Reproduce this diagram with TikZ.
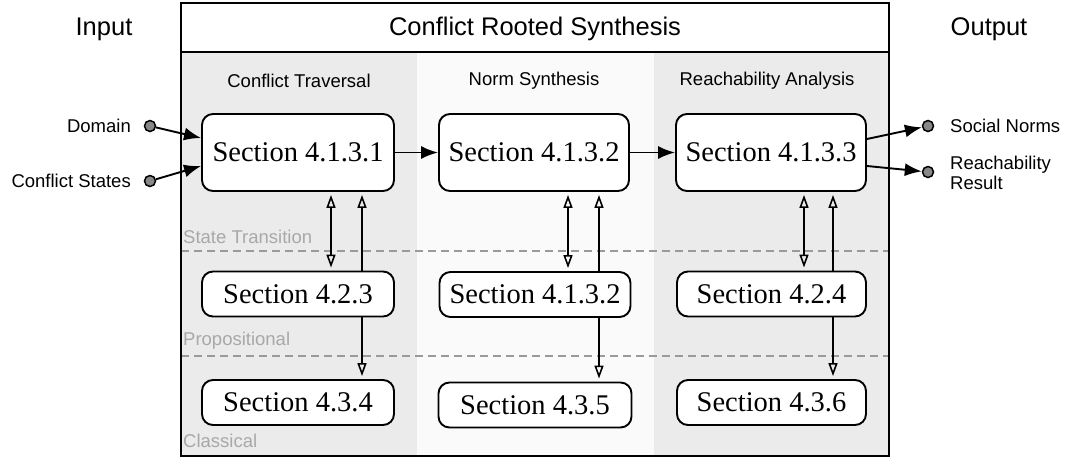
\documentclass[tikz,border=0pt]{standalone}
\usepackage{fontspec}
\setmainfont{Liberation Serif}
\newfontfamily\hv{Liberation Sans}
\usetikzlibrary{arrows.meta,calc}
\definecolor{colgray}{HTML}{EBEBEB}
\definecolor{colwhite}{HTML}{FAFAFA}
\definecolor{dotgray}{HTML}{888888}
\definecolor{lblgray}{HTML}{A8A8A8}
\definecolor{dashgray}{HTML}{9A9A9A}
\tikzset{
  sec/.style={draw=black, line width=1.9pt, fill=white, rounded corners=11pt,
    inner sep=0pt, font=\fontsize{28.5}{32}\selectfont},
  bigsec/.style={sec, minimum height=77pt},
  smallsec/.style={sec, minimum height=45pt},
  dot/.style={circle, draw=black, line width=1.5pt, fill=dotgray, minimum size=11pt, inner sep=0pt},
  flow/.style={line width=1.9pt, -{Latex[length=17pt,width=13pt]}},
  opentip/.tip={Triangle[open,length=13pt,width=9pt,line width=1.6pt]},
  link/.style={line width=1.8pt, -opentip},
  biLink/.style={line width=1.8pt, opentip-opentip, shorten <=3pt},
  hdr/.style={font=\hv\fontsize{25.5}{30}\selectfont},
  colhdr/.style={font=\hv\fontsize{18.5}{22}\selectfont},
  small/.style={font=\hv\fontsize{18.5}{21}\selectfont, inner sep=0pt},
  level/.style={font=\hv\fontsize{18.5}{21}\selectfont, text=lblgray, inner sep=0pt, anchor=west},
  levelline/.style={draw=dashgray, line width=1.6pt, dash pattern=on 8pt off 5pt}
}
\begin{document}
\begin{tikzpicture}[x=1pt,y=-1pt]
\useasboundingbox (0,0) rectangle (1070,459);

% column backgrounds
\fill[colgray]  (181,52) rectangle (417,456);
\fill[colwhite] (417,52) rectangle (654,456);
\fill[colgray]  (654,52) rectangle (889,456);

% level separators
\draw[levelline] (181,251) -- (889,251);
\draw[levelline] (181,356) -- (889,356);
\node[level] (lv1) at (183,237) {State Transition};
\node[level] (lv2) at (183,341) {Propositional};
\node[level] (lv3) at (183,441) {Classical};

% frame and title band
\draw[line width=1.9pt] (181,3) rectangle (889,456);
\draw[line width=1.9pt] (181,52) -- (889,52);
\node[hdr] (title) at (535,29) {Conflict Rooted Synthesis};
\node[hdr] (inp) at (104,29) {Input};
\node[hdr] (outp) at (989,29) {Output};

% column headers
\node[colhdr] (h1) at (299,81) {Conflict Traversal};
\node[colhdr] (h2) at (534,81) {Norm Synthesis};
\node[colhdr] (h3) at (767,81) {Reachability Analysis};

% section boxes
\node[bigsec, minimum width=192pt] (s11) at (298,152.5) {Section 4.1.3.1};
\node[bigsec, minimum width=190pt] (s12) at (534,152.5) {Section 4.1.3.2};
\node[bigsec, minimum width=190pt] (s13) at (771,152.5) {Section 4.1.3.3};
\node[smallsec, minimum width=192pt] (s21) at (298,294) {Section 4.2.3};
\node[smallsec, minimum width=191pt] (s22) at (535,294.5) {Section 4.1.3.2};
\node[smallsec, minimum width=189pt] (s23) at (771.5,294) {Section 4.2.4};
\node[smallsec, minimum width=192pt] (s31) at (298,402.5) {Section 4.3.4};
\node[smallsec, minimum width=193pt] (s32) at (535,405) {Section 4.3.5};
\node[smallsec, minimum width=189pt] (s33) at (771.5,402.5) {Section 4.3.6};

% main flow
\draw[flow] (s11) -- (s12);
\draw[flow] (s12) -- (s13);

% vertical links
\draw[biLink, shorten >=3pt] ([xshift=33pt]s11.south) -- ([xshift=33pt]s21.north);
\draw[link, shorten >=3pt] ([xshift=64pt]s21.north) -- ([xshift=64pt]s11.south);
\draw[link, shorten >=3pt] ([xshift=64pt]s21.south) -- ([xshift=64pt]s31.north);

\draw[biLink, shorten >=3pt] ([xshift=34pt]s12.south) -- ([xshift=33pt]s22.north);
\draw[link, shorten >=3pt] ([xshift=64pt]s22.north) -- ([xshift=65pt]s12.south);
\draw[link, shorten >=3pt] ([xshift=64pt]s22.south) -- ([xshift=64pt]s32.north);

\draw[biLink, shorten >=3pt] ([xshift=33pt]s13.south) -- ([xshift=32.5pt]s23.north);
\draw[link, shorten >=3pt] ([xshift=61.5pt]s23.north) -- ([xshift=62pt]s13.south);
\draw[link, shorten >=3pt] ([xshift=61.5pt]s23.south) -- ([xshift=61.5pt]s33.north);

% inputs
\node[dot] (dDom) at (150,126) {};
\node[dot] (dCon) at (150,181) {};
\node[small, anchor=east] (lDom) at (131,126) {Domain};
\node[small, anchor=east] (lCon) at (131,181) {Conflict States};
\draw[flow] (dDom) -- ([yshift=14.5pt]s11.west);
\draw[flow] (dCon) -- ([yshift=-13.5pt]s11.west);

% outputs
\node[dot] (dSoc) at (928,126) {};
\node[dot] (dRea) at (928,172) {};
\node[small, anchor=west] (lSoc) at (950,126) {Social Norms};
\node[small, anchor=west, align=left] (lRea) at (950,173) {Reachability\\[-1pt]Result};
\draw[flow] ([yshift=13.5pt]s13.east) -- (dSoc);
\draw[flow] ([yshift=-13.5pt]s13.east) -- (dRea);
\end{tikzpicture}
\end{document}
